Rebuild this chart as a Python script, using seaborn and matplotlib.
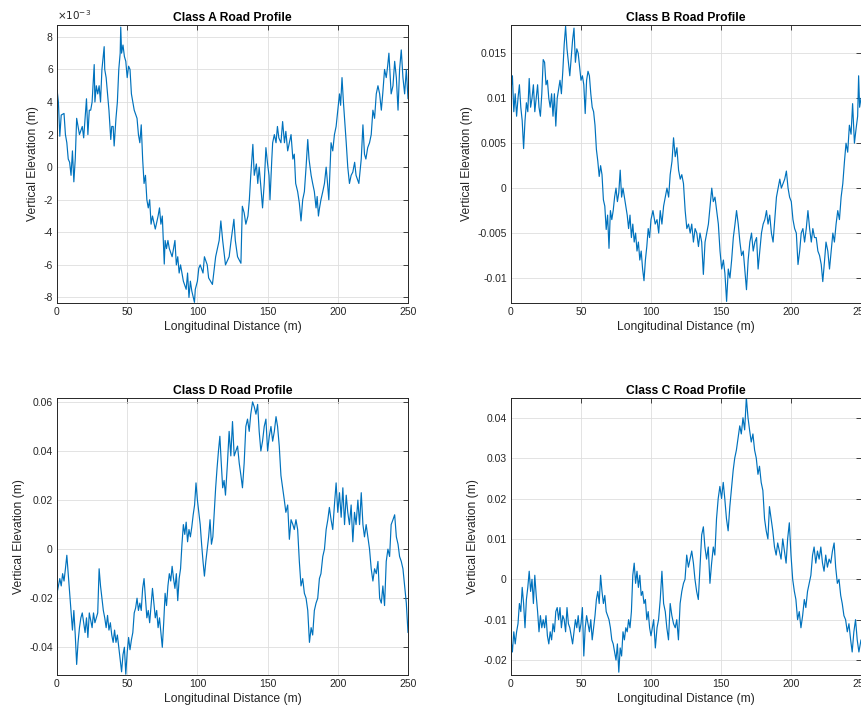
import numpy as np
import matplotlib
matplotlib.use("Agg")
import matplotlib.pyplot as plt
import seaborn as sns
from matplotlib.ticker import FuncFormatter

# values, distance in m, elevation in mm
a_dist = [0, 1, 2, 3, 5, 6, 7, 8, 9, 10, 11, 12, 13, 14, 15, 16, 18, 19, 20, 21, 22, 23, 24, 25, 26.5, 27, 28, 29, 30, 31,
          32, 33.6, 34, 35, 36, 37, 38.3, 39, 40, 40.7, 42, 43, 44, 45, 45.4, 46, 47, 48, 49, 50, 51, 52, 53, 54, 55, 57, 58, 59, 60, 61,
          62, 63, 64, 65, 66, 67, 68, 70, 72, 73, 74, 75, 76.4, 77, 78, 79, 80, 82, 84, 85, 86, 87, 88, 90, 92, 93, 94, 95, 96, 97.9,
          98.5, 100, 101, 102, 104, 105, 107, 108, 110.7, 113, 115.5, 116.7, 118, 120, 122.6, 124, 126, 127, 128.6, 131, 132, 133.3, 134.5, 136, 137, 138,
          139.5, 140.5, 142, 143, 144, 145, 146.4, 147.6, 148.8, 150, 151, 151.7, 153, 153.6, 154.8, 156, 157, 158, 159.5, 160.7, 162, 163, 164.3, 165.5,
          166.7, 168, 169, 170, 171.4, 172.6, 173.8, 175, 176.2, 177.4, 178.6, 179.5, 181, 182.1, 183.3, 184.5, 185.3, 186.2, 187, 188, 189.3, 190.5,
          191.7, 192.5, 193.6, 195.2, 196.4, 197.6, 198.8, 200, 201.2, 202, 203, 204, 204.8, 206, 207.1, 208.3, 209.5, 210.7, 212, 213, 215, 216.7,
          217.9, 219, 220, 221.3, 222.6, 223.8, 225, 226.2, 227.4, 228.6, 229.8, 231, 232, 233.3, 234.5, 235.5, 236.4, 237.2, 238, 239.3, 240.5, 241.7,
          242.9, 244, 245.2, 246.4, 247.6, 248.8, 250]
a_elev_mm = [4.8, 4.0, 1.9, 3.2, 3.3, 2.0, 1.5, 0.5, 0.3, -0.5, 1.0, -0.9, 0.5, 3.0, 2.5, 2.0, 2.5, 1.8, 3.0, 4.2, 2.0, 3.5, 3.5, 4.0, 6.3, 4.0, 5.0, 4.5, 5.0, 4.0,
             6.0, 7.4, 6.0, 5.5, 4.5, 3.5, 1.7, 2.5, 2.5, 1.3, 3.0, 4.0, 6.0, 7.0, 8.6, 7.0, 7.5, 6.8, 6.5, 5.5, 6.2, 6.0, 4.5, 4.0, 3.5, 3.0, 2.0, 1.5, 2.6, 0.5,
             -1.0, -0.5, -2.0, -2.5, -2.0, -3.5, -3.0, -3.8, -3.0, -2.5, -3.5, -3.0, -5.95, -4.5, -5.0, -4.5, -5.0, -5.5, -4.5, -6.0, -5.5, -6.5, -6.0, -7.0, -7.5, -6.5, -8.0, -7.0, -7.6, -8.3,
             -7.5, -7.0, -6.2, -6.0, -6.5, -5.5, -6.0, -6.8, -7.2, -5.5, -4.5, -3.3, -4.5, -6.0, -5.5, -4.5, -3.2, -4.5, -5.5, -5.9, -2.4, -2.8, -3.5, -3.0, -2.0, -0.5,
             1.4, -0.5, 0.2, -1.0, 0.0, -1.0, -2.5, -1.0, 1.2, 0.2, -0.5, -2.0, 0.5, 1.5, 2.0, 1.5, 2.5, 1.8, 1.5, 2.8, 1.5, 2.2, 1.0, 1.5,
             2.0, 0.5, 0.8, -1.0, -1.5, -2.2, -3.3, -2.0, -1.5, 0.0, 1.7, 0.5, -0.5, -1.0, -1.5, -2.5, -1.8, -3.0, -2.5, -2.0, -1.5, -1.0,
             0.0, -0.8, -2.0, 1.5, 1.0, 2.0, 2.5, 3.5, 4.5, 3.8, 5.5, 4.0, 3.0, 1.5, 0.0, -1.0, -0.5, -0.3, 0.3, -0.5, -1.0, 0.5,
             2.6, 0.8, 0.5, 1.2, 1.5, 2.0, 3.5, 3.0, 4.5, 5.0, 4.5, 3.5, 4.5, 6.0, 5.5, 6.2, 7.0, 5.8, 4.5, 5.0, 6.5, 5.5,
             3.5, 6.0, 7.2, 5.5, 4.5, 6.0, 4.2]

b_dist = list(range(0, 101)) + [101.4, 103, 104.3, 105.5, 106.6, 107.8, 109, 110.2, 111.4, 112.6, 113.7, 115, 116.1, 117.3, 118.5, 119.7,
          120.9, 122, 123.2, 124.4, 125.6, 126.8, 128, 129.1, 130.3, 131.5, 132.7, 133.9, 135, 136.2, 137.4, 138.6, 139.8, 141, 142.2, 143.4,
          144.5, 145.7, 146.9, 148.1, 149.3, 150.5, 151.7, 152.8, 154, 155.2, 156.4, 157.6, 158.8, 160, 161.1, 162.3, 163.5, 164.7, 165.9, 167,
          168.2, 169.4, 170.6, 171.8, 173, 174.2, 175.4, 176.5, 177.7, 178.9, 180.1, 181.3, 182.5, 183.6, 184.8, 186, 187.2, 188.4, 189.6, 190.8,
          192, 193.1, 194.3, 195.5, 196.7, 197.9, 199, 200.2, 201.4, 202.6, 203.8, 205, 206.2, 207.3, 208.5, 209.7, 210.9, 212.1, 213.3, 214.5,
          215.6, 216.8, 218, 219.2, 220.4, 221.6, 222.7, 224, 225, 226.3, 227.5, 228.7, 229.9, 231, 232.2, 233.4, 234.6, 235.8, 237, 238.2,
          239.3, 240.5, 241.7, 242.9, 244, 245.3, 246.4, 247.6, 248.3, 249, 250]
b_elev_mm = [11, 12.5, 8.5, 10.5, 8, 10, 11.5, 9, 7.5, 4.4, 7.5, 9.5, 8.5, 12.2, 9, 10, 11.5, 8.5, 10, 11.5,
             9, 8, 10.5, 14.3, 14, 11.5, 12, 10, 9, 10.5, 8, 10.5, 6.9, 10, 11, 12, 10.5, 13, 16, 18,
             15.5, 14, 12.5, 14.5, 16.5, 17.8, 14, 15.5, 15, 13.5, 12, 12.5, 11.5, 8.3, 12, 13, 12.5, 10.5, 9, 8.5,
             7, 4.3, 3, 1.3, 2.5, 1.5, -1.3, -2, -4.6, -3, -6.7, -2.5, -3.5, -2.5, -1, 0, -1.5, -0.5, 2, -1,
             0, -1, -2, -3, -4.5, -3, -5.5, -4, -6, -5, -7, -6, -8, -7, -9, -10.3, -8, -6.5, -4.5, -5.5, -3.5,
             -2.5, -4, -3.5, -5, -2.5, -4, -2, -1, 0, -1, 1.5, 3, 5.6, 3.5, 4.5, 2,
             1, 1.5, 0.5, -2.5, -4.5, -4, -5, -4, -6, -4.5, -5, -6.5, -5, -6, -9.6, -6, -5, -4, -2, 0,
             -1.5, -1, -2.5, -4, -7, -9, -8, -9.5, -12.6, -9, -10, -8, -5.5, -4, -2.5, -4, -6, -7.5, -7, -9,
             -11.3, -8, -6, -5, -7, -6, -5.5, -9, -7, -5, -4, -3.5, -2.5, -4, -3, -5, -6, -3.5, -1, 0,
             1, 0, 0.5, 1, 1.9, 0, -1, -1.5, -3.5, -4.5, -5, -8.5, -7, -5, -4.5, -6, -4.5, -2.5, -4.5, -6,
             -4.5, -5.5, -5.5, -7, -7.5, -8.5, -10.4, -8, -6, -7, -9, -7, -5, -6, -4, -2.5, -3.5, -1, 0.5, 3,
             5, 4, 7, 6, 9.4, 5, 6.5, 8, 12.5, 9, 10]

d_dist = list(range(0, 113)) + [113, 114, 115, 116, 117, 118, 119, 120, 121.4, 122.6, 123.8, 125, 126.2, 127.4, 128.6, 129.8, 131, 132.1,
          133.3, 134.5, 135.7, 136.9, 138, 139.3, 140.5, 141.7, 142.9, 144, 145.2, 146.4, 147.6, 148.8, 150, 151.2, 152.4, 153.6, 154.8, 156,
          157.1, 158.3, 159.5, 160.7, 161.9, 163, 164.3, 165.5, 166.7, 168, 169, 170.2, 171.4, 172.6, 173.8, 175, 176.2, 177.4, 178.6, 179.8,
          181, 182.1, 183.3, 184.5, 185.7, 186.9, 188, 189.3, 190.5, 191.7, 192.9, 194, 195.2, 196.4, 197.6, 198.8, 200, 201.2, 202.4, 203.6,
          204.8, 206, 207.1, 208.3, 209.5, 210.7, 211.9, 213, 214.3, 215.5, 216.7, 217.9, 219, 220.2, 221.4, 222.6, 223.8, 225, 226.2, 227.4,
          228.6, 229.8, 231, 232.1, 233.3, 234.5, 235.7, 236.9, 238, 239.3, 240.5, 241.7, 242.9, 244, 245.2, 246.4, 247.6, 248.8, 250]
d_elev_mm = [-18, -15, -12, -15, -10, -13, -8, -2.5, -10, -18, -25, -33, -25, -35, -47, -38, -32, -28, -26, -30,
             -34, -28, -36, -26, -29, -32, -26, -30, -28, -26, -8, -15, -20, -25, -28, -32, -27, -33, -30, -35,
             -38, -33, -38, -35, -40, -45, -50, -43, -40, -51, -42, -36, -41, -37, -34, -26, -24, -20, -25, -22,
             -25, -16, -12, -20, -28, -25, -30, -23, -16, -22, -28, -25, -32, -28, -34, -40, -30, -18, -23, -15,
             -10, -13, -7, -12, -16, -10, -21, -12, -8, 2, 10, 6, 11, 3, 8, 5, 9, 14, 18, 27,
             20, 15, 10, 2, -5, -11, -5, 0, 5, 12, 2, 5, 15,
             25, 33, 40, 46, 35, 25, 28, 22, 35, 48, 38, 52, 38, 40, 42, 35, 30, 25,
             35, 50, 53, 48, 55, 60, 58, 55, 59, 48, 40, 44, 50, 53, 40, 46, 50, 44, 48, 54,
             50, 42, 30, 25, 20, 15, 18, 4, 12, 10, 8, 12, 8, -5, -15, -12, -18, -20, -25, -38,
             -32, -35, -25, -22, -20, -12, -10, -3, 0, 8, 12, 17, 12, 8, 18, 27, 15, 23, 13, 25,
             10, 22, 15, 10, 18, 3, 15, 10, 20, 10, 23, 10, 5, 10, 5, 0, -8, -13, -8, -10,
             -5, -20, -22, -15, -23, -5, 0, -3, 10, 12, 14, 5, 2, -3, -5, -8, -15, -22, -34]

c_dist = list(range(0, 101)) + [101.9, 103.1, 104.3, 105.4, 106.6, 107.8, 109, 110.2, 111.3, 112.5, 113.7, 114.9, 116.1, 117.3, 118.4, 119.6,
          120.8, 122, 123.2, 124.3, 125.5, 126.7, 127.9, 129.1, 130.3, 131.4, 132.6, 133.8, 135, 136.2, 137.4, 138.5, 139.7, 140.9, 142.1, 143.3,
          144.5, 145.6, 146.8, 148, 149.2, 150.4, 151.6, 152.7, 153.9, 155.1, 156.3, 157.4, 158.7, 159.8, 161, 162.2, 163.4, 164.5, 165.7, 166.9,
          168.1, 169.3, 170.4, 171.6, 172.8, 174, 175.2, 176.4, 177.5, 178.7, 179.9, 181.1, 182.3, 183.5, 184.6, 185.8, 187, 188.2, 189.4, 190.5,
          191.7, 192.9, 194.1, 195.3, 196.5, 197.6, 198.8, 200, 201.2, 202.4, 203.5, 204.7, 205.9, 207.1, 208.3, 209.5, 210.6, 211.8, 213, 214.2,
          215.4, 216.5, 217.7, 218.9, 220.1, 221.3, 222.5, 223.6, 224.8, 226, 227.2, 228.4, 229.6, 230.8, 231.9, 233.1, 234.3, 235.5, 236.6, 237.8,
          239, 240.2, 241.4, 242.6, 243.7, 244.9, 246.1, 247.3, 248.5, 250]
c_elev_mm = [-15, -18, -13, -16, -13, -11, -6, -8, -2, -6, -12, -5, -2, 2, -3, 0, -6, 1, -4, -8,
             -13, -9, -12, -10, -12, -9, -14, -16, -13, -15, -11, -13, -8, -7, -10, -7, -12, -9, -10, -13,
             -7, -11, -12, -14, -16, -13, -10, -12, -9, -13, -11, -7, -19, -12, -9, -11, -13, -10, -15, -12,
             -9, -5, -3, -6, 1, -3, -6, -4, -8, -9, -10, -12, -15, -16, -18, -20, -16, -23, -17, -19,
             -13, -15, -12, -13, -10, -12, -8, 1, 4, -1, 2, -2, 1, -4, -3, -6, -5, -10, -8, -12, -14,
             -10, -17, -12, -10, -5, 2, -6, -8, -12, -15, -6, -9, -11, -12, -10, -15,
             -6, -3, -1, 0, 6, 3, 5, 7, 4, 0, -3, -5, 3, 11, 13, 8, 5, 8, -1, 4,
             8, 6, 15, 20, 23, 20, 24, 20, 15, 12, 18, 22, 27, 30, 32, 35, 38, 36, 40, 37,
             45, 40, 37, 34, 36, 32, 30, 26, 28, 24, 22, 15, 12, 10, 18, 15, 12, 8, 6, 9,
             7, 5, 10, 7, 4, 10, 14, 6, 0, -3, -5, -10, -8, -12, -9, -5, -7, -3, -1, 1,
             6, 8, 4, 7, 5, 8, 4, 2, 6, 3, 5, 4, 7, 9, 3, -1, 0, -4, -6, -9,
             -10, -13, -11, -15, -18, -13, -10, -15, -18, -15]

panels = [
    ("Class A Road Profile", a_dist, a_elev_mm, [57, 25, 408, 303], (-8.34e-3, 8.73e-3), np.arange(-8e-3, 8.1e-3, 2e-3)),
    ("Class B Road Profile", b_dist, b_elev_mm, [511, 25, 861, 303], (-0.01278, 0.01815), np.arange(-0.01, 0.0151, 0.005)),
    ("Class D Road Profile", d_dist, d_elev_mm, [57, 398, 408, 675], (-0.0513, 0.0616), np.arange(-0.04, 0.061, 0.02)),
    ("Class C Road Profile", c_dist, c_elev_mm, [511, 398, 861, 675], (-0.0237, 0.0449), np.arange(-0.02, 0.041, 0.01)),
]

sns.set_style("white")
plt.rcParams['font.family'] = ['Liberation Sans', 'DejaVu Sans']
plt.rcParams['axes.unicode_minus'] = False

W, H = 861, 711
fig = plt.figure(figsize=(W / 100, H / 100), dpi=100)
dark = '#262626'

for title, dist, elev_mm, (x0, y0, x1, y1), ylim, yticks in panels:
    ax = fig.add_axes([x0 / W, 1 - y1 / H, (x1 - x0) / W, (y1 - y0) / H])
    elev = np.array(elev_mm) / 1000.0
    sns.lineplot(x=dist, y=elev, ax=ax, color='#0072BD', linewidth=0.85,
                 estimator=None, sort=False)
    ax.set_xlim(0, 250)
    ax.set_ylim(*ylim)
    ax.set_xticks([0, 50, 100, 150, 200, 250])
    ax.set_yticks(yticks)
    if title.startswith("Class A"):
        ax.yaxis.set_major_formatter(FuncFormatter(lambda v, p: f"{round(v * 1000, 6) + 0.0:g}"))
        ax.text(0, 1.012, r"$\times10^{-3}$", transform=ax.transAxes, ha='left', va='bottom',
                fontsize=7.5, color=dark)
    else:
        ax.yaxis.set_major_formatter(FuncFormatter(lambda v, p: f"{round(v, 6) + 0.0:g}"))
    ax.grid(True, color='#dedede', linewidth=0.6)
    ax.tick_params(direction='in', top=True, right=True, length=3.5, width=0.6,
                   colors=dark, labelsize=7.5, pad=3)
    for s in ax.spines.values():
        s.set_color(dark)
        s.set_linewidth(0.7)
    ax.set_title(title, fontsize=8.7, fontweight='bold', color='black', pad=3)
    ax.set_xlabel("Longitudinal Distance (m)", fontsize=8.7, color=dark, labelpad=3)
    ax.set_ylabel("Vertical Elevation (m)", fontsize=8.7, color=dark, labelpad=3)

fig.savefig("out.png", dpi=100)
